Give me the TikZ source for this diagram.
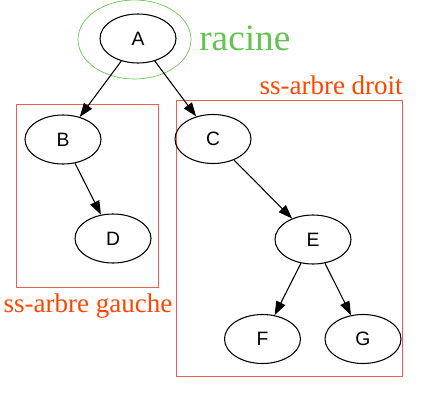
\documentclass[tikz,border=0pt]{standalone}
\usepackage{fontspec}
\setmainfont{Liberation Serif}
\setsansfont{Liberation Sans}
\usepackage{tikz}
\usetikzlibrary{shapes.geometric,arrows.meta,positioning}

\definecolor{racinegreen}{RGB}{100,196,80}
\definecolor{labelred}{RGB}{255,69,0}
\definecolor{boxred}{RGB}{228,98,78}

\begin{document}
\begin{tikzpicture}[
  x=0.75pt, y=-0.75pt,
  tnode/.style={ellipse, draw, line width=0.8pt, minimum width=57pt, minimum height=36.75pt, inner sep=0pt, font=\sffamily\fontsize{14.5}{16}\selectfont},
  arrow/.style={-{Triangle[length=10.4pt, width=7.4pt]}, line width=0.8pt},
  cluster/.style={draw=boxred, line width=0.6pt},
  clabel/.style={text=labelred, inner sep=0pt, font=\fontsize{20.25}{22}\selectfont}
]
  \useasboundingbox (0,0) rectangle (436,400);

  % sous-arbres
  \draw[cluster] (16.7,104.3) rectangle (158.3,287);
  \draw[cluster] (176.7,100.7) rectangle (402.3,376);
  \node[clabel, anchor=base] (lg) at (88,312) {ss-arbre gauche};
  \node[clabel, anchor=base east] (ld) at (403,94) {ss-arbre droit};

  % racine
  \node[ellipse, draw=racinegreen, line width=0.5pt, minimum width=84.75pt, minimum height=59.25pt] (rac) at (134.5,39.5) {};
  \node[text=racinegreen, anchor=base west, inner sep=0pt, font=\fontsize{28}{30}\selectfont] (lr) at (199,50) {racine};

  \node[tnode] (a) at (138,38.5) {A};
  \node[tnode] (b) at (63,139.5) {B};
  \node[tnode] (d) at (113,238.5) {D};
  \node[tnode] (c) at (213,139) {C};
  \node[tnode] (e) at (313,239.5) {E};
  \node[tnode] (f) at (262.5,339) {F};
  \node[tnode] (g) at (363,339) {G};

  \draw[arrow] (a) -- (b);
  \draw[arrow] (a) -- (c);
  \draw[arrow] (b) -- (d);
  \draw[arrow] (c) -- (e);
  \draw[arrow] (e) -- (f);
  \draw[arrow] (e) -- (g);
\end{tikzpicture}
\end{document}
